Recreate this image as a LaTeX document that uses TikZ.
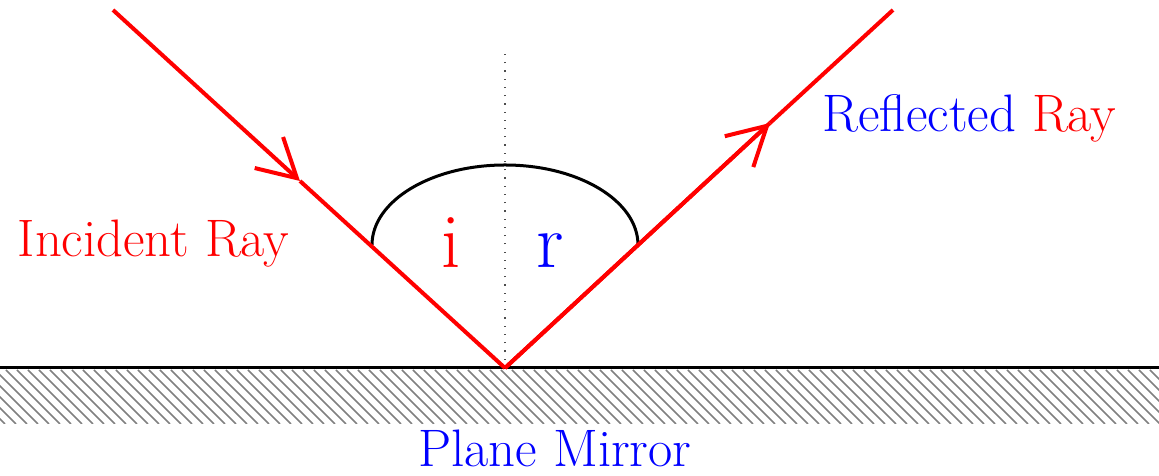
\documentclass[tikz,border=0pt]{standalone}
\usetikzlibrary{arrows.meta}
\tikzset{
  ray/.style={red,line width=0.04cm},
  midarrow/.style={ray,-{Straight Barb[length=0.38cm,width=0.42cm]}},
  lbl/.style={inner sep=0pt,anchor=base west,font=\fontsize{15}{17}\selectfont},
  anglbl/.style={inner sep=0pt,anchor=base,font=\fontsize{22}{24}\selectfont}
}
\begin{document}
\begin{tikzpicture}[x=0.01cm,y=0.01cm]
\useasboundingbox (0,0) rectangle (1159,476);
% mirror with hatching
\begin{scope}
\clip (0,52) rectangle (1159,106);
\foreach \x in {-60,-49,...,1170}
  \draw[gray,line width=0.015cm] (\x,106) -- (\x+54,52);
\end{scope}
\draw[line width=0.03cm] (0,108) -- (1159,108);
% points of the rays
\coordinate (src) at (113,466);
\coordinate (hit) at (505,108);
\coordinate (dst) at (893,466);
\coordinate (inarrow) at (300,295);
\coordinate (outarrow) at (770,353);
\coordinate (top) at (505,426);
% normal
\draw[black!70,dotted,line width=0.012cm] (hit) -- (top);
% angle arc
\draw[line width=0.03cm] (372,231) arc[start angle=180,end angle=0,x radius=133,y radius=80];
% rays
\draw[midarrow] (src) -- (inarrow);
\draw[ray] (inarrow) -- (hit);
\draw[ray] (hit) -- (outarrow);
\draw[midarrow] (hit) -- (outarrow);
\draw[ray] (outarrow) -- (dst);
% labels
\node[lbl,red] (inc) at (17,219) {Incident Ray};
\node[lbl] (refl) at (822,344) {{\color{blue}Reflected} {\color{red}Ray}};
\node[lbl,blue,anchor=base] (mirr) at (555,9) {Plane Mirror};
\node[anglbl,red] (ai) at (451,208) {i};
\node[anglbl,blue] (ar) at (550,208) {r};
\end{tikzpicture}
\end{document}
